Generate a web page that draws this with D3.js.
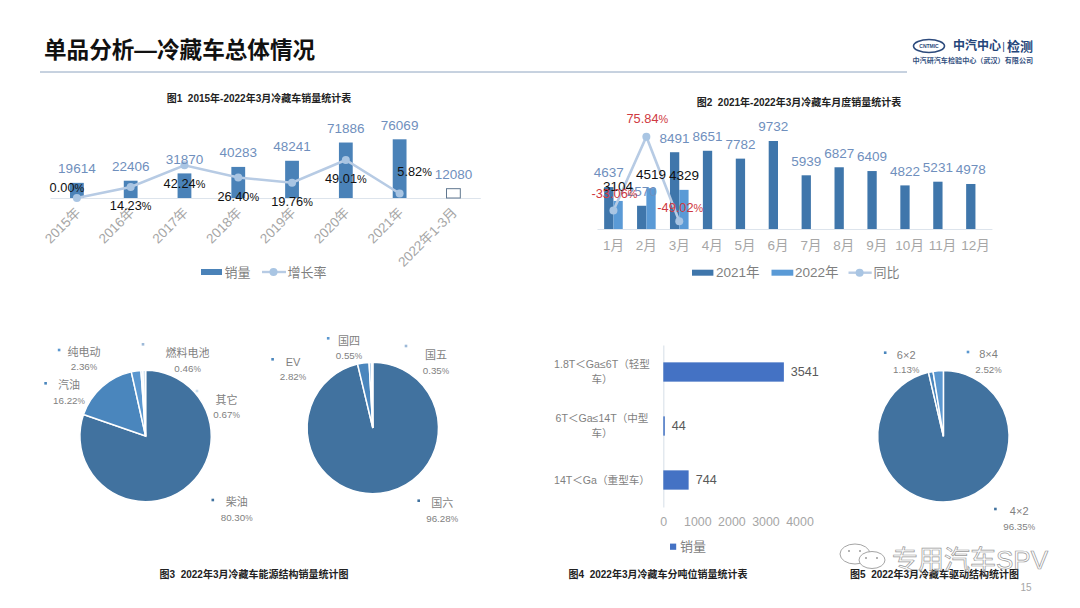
<!DOCTYPE html>
<html><head><meta charset="utf-8">
<script src="https://cdn.jsdelivr.net/npm/d3@7"></script>
<style>
html,body{margin:0;padding:0;background:#fff}
svg{display:block}
text{font-family:"Liberation Sans","Noto Sans CJK SC",sans-serif;white-space:pre}
</style></head><body>
<svg id="c" width="1080" height="608"></svg>
<script>
// ---- data ----
const yearCats = ["2015年","2016年","2017年","2018年","2019年","2020年","2021年","2022年1-3月"];
const yearSales = [19614,22406,31870,40283,48241,71886,76069,12080];
const yearGrowth = [0,14.23,42.24,26.40,19.76,49.01,5.82];
const monthCats = ["1月","2月","3月","4月","5月","6月","7月","8月","9月","10月","11月","12月"];
const sales2021 = [4637,2570,8491,8651,7782,9732,5939,6827,6409,4822,5231,4978];
const sales2022 = [3104,4519,4329];
const monthYoY = [-33.06,75.84,-49.02];
const energyNames = ["柴油","汽油","纯电动","燃料电池","其它"];
const energyShare = [80.30,16.22,2.36,0.46,0.67];
const emissionNames = ["国六","EV","国四","国五"];
const emissionShare = [96.28,2.82,0.55,0.35];
const driveNames = ["4×2","6×2","8×4"];
const driveShare = [96.35,1.13,2.52];
const tonnageCats = ["轻型","中型","重型"];
const tonnageLabels = [["1.8T＜Ga≤6T（轻型","车）"],["6T＜Ga≤14T（中型","车）"],["14T＜Ga（重型车）"]];
const tonnageSales = [3541,44,744];
const tonnageTicks = [0,1000,2000,3000,4000];

// ---- layout ----
const growthDx = [-10,0,0,0,0,0,15];
const growthDy = [-10.7,19,18.7,18.7,19,18.3,-22];
const yoyDy = [-17.4,-17.7,-14];
const energyPos = [[212.8,500,236.7,502,517.3],[45.6,383.3,69,385,400.7],[59.1,350,84,351.7,366.7],[143,344.3,187.6,353.3,368.3],[197,391,226.6,400,415]];
const emissionPos = [[418.7,500.7,442.2,503,518.3],[272.6,359.3,293,361.7,376.7],[328.2,338.3,349,340.7,355.7],[406,346,436,355,370.7]];
const drivePos = [[995.4,509,1019.2,511,526.7],[885.2,352.7,906.2,354.7,370],[968,352,988.5,354,369.3]];
const pieColors = ["#41729f","#4a86bd","#5b97cf","#9db9d8","#cfe0ef"];
const driveColors = ["#41729f","#4a86bd","#5b97cf"];

const GRAY="#a6a6a6", LABEL="#7f7f7f", VAL="#6f8fbd", AXIS="#dde4ec", LINE="#b7cbe4", MARK="#a9c5e3";
const svg = d3.select("#c");
function T(x,y,s,o={}){
  return svg.append("text").attr("x",x).attr("y",y).attr("dy","0.35em")
    .attr("text-anchor",o.a||"middle").attr("font-size",o.s||12)
    .attr("font-weight",o.w||null).attr("fill",o.c||"#000").text(s);
}
function P(x,y,v,o){
  const t=T(x,y,v.toFixed(2),o);
  t.append("tspan").attr("font-size",o.s*0.85).text("%");
  return t;
}

// ---- header ----
T(44,50,"单品分析—冷藏车总体情况",{a:"start",s:22.6,w:"bold",c:"#111"});
svg.append("line").attr("x1",40).attr("x2",907).attr("y1",72).attr("y2",72).attr("stroke","#8ea4c0").attr("stroke-width",1);
svg.append("ellipse").attr("cx",929).attr("cy",46).attr("rx",15.5).attr("ry",6.5).attr("fill","none").attr("stroke","#2c4a7c").attr("stroke-width",1.6);
T(929,46,"CNTMIC",{s:5,c:"#2c4a7c",w:"bold"});
T(953,46,"中汽中心",{a:"start",s:12,w:"bold",c:"#24457a"});
T(1003.5,46,"|",{s:10,c:"#24457a"});
T(1007,46,"检测",{a:"start",s:13,w:"bold",c:"#24457a"});
T(912.5,60.5,"中汽研汽车检验中心（武汉）有限公司",{a:"start",s:7.1,w:"bold",c:"#33507f"});

// ---- figure titles ----
T(259,98.3,"图1  2015年-2022年3月冷藏车销量统计表",{s:10,w:"bold",c:"#222"});
T(799,102.3,"图2  2021年-2022年3月冷藏车月度销量统计表",{s:10,w:"bold",c:"#222"});
T(254,574,"图3  2022年3月冷藏车能源结构销量统计图",{s:10,w:"bold",c:"#222"});
T(658,574,"图4  2022年3月冷藏车分吨位销量统计表",{s:10,w:"bold",c:"#222"});
T(934.5,574,"图5  2022年3月冷藏车驱动结构统计图",{s:10,w:"bold",c:"#222"});

// ---- Fig 1 ----
(function(){
  const base=198, x=d3.scaleBand().domain(yearCats).range([50,480.3]);
  const y=d3.scaleLinear().domain([0,76069]).range([base,139.3]);
  const yg=d3.scaleLinear().domain([0,49.01]).range([base,160]);
  const ax=svg.append("g").attr("transform",`translate(0,${base})`).call(d3.axisBottom(x).tickSize(0));
  ax.select(".domain").attr("stroke",AXIS).attr("stroke-width",1.2);
  ax.selectAll("text").attr("font-size",13.5).attr("fill",GRAY)
    .attr("text-anchor","end")
    .attr("transform","translate(1,12) rotate(-45)").attr("y",0).attr("x",0).attr("dy","0.35em");
  const bw=13.8;
  svg.append("g").selectAll("rect").data(yearSales).join("rect")
    .attr("x",(d,i)=>x(yearCats[i])+x.bandwidth()/2-bw/2).attr("width",bw)
    .attr("y",d=>y(d)).attr("height",d=>base-y(d))
    .attr("fill",(d,i)=>i==7?"#fff":"#4a82b8").attr("stroke",(d,i)=>i==7?"#60778f":"none").attr("stroke-width",1);
  const cx=i=>x(yearCats[i])+x.bandwidth()/2;
  svg.append("path").datum(yearGrowth).attr("fill","none").attr("stroke",LINE).attr("stroke-width",2.6)
    .attr("d",d3.line().x((d,i)=>cx(i)).y(d=>yg(d)));
  svg.append("g").selectAll("circle").data(yearGrowth).join("circle")
    .attr("cx",(d,i)=>cx(i)).attr("cy",d=>yg(d)).attr("r",4).attr("fill",MARK);
  yearSales.forEach((d,i)=>T(cx(i),y(d)-14.3,d,{s:13.5,c:VAL}));
  yearGrowth.forEach((d,i)=>P(cx(i)+growthDx[i],yg(d)+growthDy[i],d,{s:12.8,c:"#111"}));
  const ly=272;
  svg.append("rect").attr("x",201).attr("y",ly-3).attr("width",21).attr("height",6).attr("fill","#4a82b8");
  T(224.6,ly,"销量",{a:"start",s:13,c:LABEL});
  svg.append("line").attr("x1",262).attr("x2",286).attr("y1",ly).attr("y2",ly).attr("stroke",LINE).attr("stroke-width",2.4);
  svg.append("circle").attr("cx",273.5).attr("cy",ly).attr("r",4).attr("fill",MARK);
  T(287.5,ly,"增长率",{a:"start",s:13,c:LABEL});
})();

// ---- Fig 2 ----
(function(){
  const base=229, x=d3.scaleBand().domain(monthCats).range([597,991.9]);
  const y=d3.scaleLinear().domain([0,9732]).range([base,141]);
  const yy=d3.scaleLinear().domain([-49.02,75.84]).range([221.3,136.7]);
  const ax=svg.append("g").attr("transform",`translate(0,${base})`).call(d3.axisBottom(x).tickSize(0));
  ax.select(".domain").attr("stroke",AXIS).attr("stroke-width",1.2);
  ax.selectAll("text").attr("font-size",13.5).attr("fill",GRAY).attr("y",16.7).attr("dy","0.35em");
  const bw=9.3, c=i=>x(monthCats[i])+x.bandwidth()/2;
  svg.append("g").selectAll("rect").data(sales2021).join("rect")
    .attr("x",(d,i)=>c(i)-bw).attr("width",bw).attr("y",d=>y(d)).attr("height",d=>base-y(d)).attr("fill","#3f76ab");
  svg.append("g").selectAll("rect").data(sales2022).join("rect")
    .attr("x",(d,i)=>c(i)).attr("width",bw).attr("y",d=>y(d)).attr("height",d=>base-y(d)).attr("fill","#5a9ad6");
  svg.append("path").datum(monthYoY).attr("fill","none").attr("stroke",LINE).attr("stroke-width",2.6)
    .attr("d",d3.line().x((d,i)=>c(i)).y(d=>yy(d)));
  svg.append("g").selectAll("circle").data(monthYoY).join("circle")
    .attr("cx",(d,i)=>c(i)).attr("cy",d=>yy(d)).attr("r",4).attr("fill",MARK);
  sales2021.forEach((d,i)=>T(c(i)-bw/2,y(d)-14.3,d,{s:13.5,c:VAL}));
  sales2022.forEach((d,i)=>T(c(i)+bw/2,y(d)-14.3,d,{s:13.5,c:"#111"}));
  monthYoY.forEach((d,i)=>P(c(i)+1,yy(d)+yoyDy[i],d,{s:12.8,c:"#cf3a42"}));
  const ly=272.7;
  svg.append("rect").attr("x",692).attr("y",ly-3).attr("width",21.4).attr("height",6).attr("fill","#3f76ab");
  T(716,ly,"2021年",{a:"start",s:13.5,c:LABEL});
  svg.append("rect").attr("x",771.5).attr("y",ly-3).attr("width",21.8).attr("height",6).attr("fill","#5a9ad6");
  T(795,ly,"2022年",{a:"start",s:13.5,c:LABEL});
  svg.append("line").attr("x1",848.5).attr("x2",871.7).attr("y1",ly).attr("y2",ly).attr("stroke",LINE).attr("stroke-width",2.4);
  svg.append("circle").attr("cx",859.6).attr("cy",ly).attr("r",4).attr("fill",MARK);
  T(873.4,ly,"同比",{a:"start",s:13,c:LABEL});
})();

// ---- Pies ----
function drawPie(cx,cy,names,share,colors,pos){
  const arcs=d3.pie().sort(null)(share);
  const arc=d3.arc().innerRadius(0).outerRadius(65.7);
  svg.append("g").attr("transform",`translate(${cx},${cy})`).selectAll("path").data(arcs).join("path")
    .attr("d",arc).attr("fill",(d,i)=>colors[i]).attr("stroke","#fff").attr("stroke-width",1.5);
  names.forEach((n,i)=>{
    const p=pos[i];
    svg.append("rect").attr("x",p[0]-1.3).attr("y",p[1]-1.3).attr("width",2.6).attr("height",2.6).attr("fill",colors[i]);
    T(p[2],p[3],n,{s:11,c:LABEL});
    P(p[2],p[4],share[i],{s:9.8,c:LABEL});
  });
}
drawPie(145.6,436,energyNames,energyShare,pieColors,energyPos);
drawPie(372.8,428,emissionNames,emissionShare,pieColors,emissionPos);
drawPie(943.4,436.3,driveNames,driveShare,driveColors,drivePos);

// ---- Fig 4 ----
(function(){
  const x=d3.scaleLinear().domain([0,4000]).range([663.3,799.5]);
  const y=d3.scaleBand().domain(tonnageCats).range([345,507]);
  const ax=svg.append("g").attr("transform","translate(663.3,0)").call(d3.axisLeft(y).tickSize(0).tickFormat(""));
  ax.select(".domain").attr("stroke",AXIS).attr("stroke-width",1.2);
  const bx=svg.append("g").attr("transform","translate(0,510)").call(d3.axisBottom(x).tickValues(tonnageTicks).tickFormat(d3.format("d")).tickSize(0));
  bx.select(".domain").remove();
  bx.selectAll("text").attr("font-size",12.4).attr("fill",GRAY).attr("y",11.7).attr("dy","0.35em");
  const bh=19.3, m=i=>y(tonnageCats[i])+y.bandwidth()/2;
  svg.append("g").selectAll("rect").data(tonnageSales).join("rect")
    .attr("x",x(0)).attr("width",d=>x(d)-x(0)).attr("y",(d,i)=>m(i)-bh/2).attr("height",bh).attr("fill","#4472c4");
  tonnageSales.forEach((d,i)=>{
    T(x(d)+7,m(i),d,{a:"start",s:12.6,c:"#595959"});
    const L=tonnageLabels[i];
    L.forEach((t,j)=>T(602,m(i)+(L.length==2?(j==0?-8:7):0),t,{s:10.6,c:LABEL}));
  });
  svg.append("rect").attr("x",670).attr("y",543.6).attr("width",6.2).attr("height",6.2).attr("fill","#4472c4");
  T(680,546.7,"销量",{a:"start",s:13,c:LABEL});
})();

// ---- watermark & page number ----
const wm=svg.append("g").attr("fill","none").attr("stroke","#9a9a9a").attr("stroke-width",0.9);
wm.append("ellipse").attr("cx",855).attr("cy",554).attr("rx",15).attr("ry",10);
wm.append("ellipse").attr("cx",872).attr("cy",560).attr("rx",13).attr("ry",8.5).attr("fill","#fff");
[[866,558],[877,558],[849,551],[860,551]].forEach(p=>svg.append("circle").attr("cx",p[0]).attr("cy",p[1]).attr("r",1).attr("fill","#9a9a9a"));
T(970,560,"专用汽车SPV",{s:26,c:"#fff"}).attr("stroke","#9a9a9a").attr("stroke-width",0.7).attr("fill-opacity",0.6);
T(1026,587.7,"15",{s:10,c:GRAY});
</script>
</body></html>
